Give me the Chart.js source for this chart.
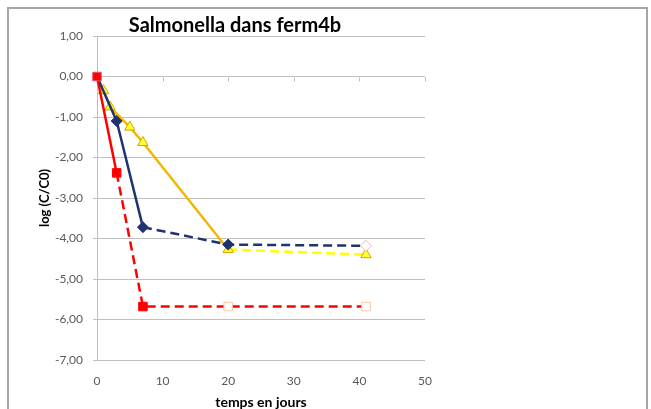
<!DOCTYPE html>
<html>
<head>
<meta charset="utf-8">
<script src="https://cdn.jsdelivr.net/npm/chart.js@4/dist/chart.umd.min.js"></script>
<style>
  html, body { margin: 0; padding: 0; background: #fff; }
  #wrap { width: 651px; height: 409px; position: relative; overflow: hidden; }
</style>
</head>
<body>
<div id="wrap"><canvas id="c" width="651" height="409"></canvas></div>
<script>
// Salmonella dans ferm4b – log(C/C0) en fonction du temps

const daysRed = [0, 3, 7, 20, 41];
const logRed = [0, -2.38, -5.68, -5.68, -5.68];

const daysBlue = [0, 3, 7, 20, 41];
const logBlue = [0, -1.1, -3.72, -4.15, -4.18];

const daysYellow = [0, 1, 2, 5, 7, 20, 41];
const logYellow = [0, -0.35, -0.75, -1.25, -1.63, -4.27, -4.4];

const xTicks = [0, 10, 20, 30, 40, 50];
const yTicks = [1, 0, -1, -2, -3, -4, -5, -6, -7];

const pts = (xs, ys) => xs.map((x, i) => ({ x, y: ys[i] }));
const DASH = [9, 5];
const FONT = "Lato, 'Open Sans', sans-serif";

// cadre gris + titre + petites graduations sur l'axe y=0
const deco = {
  id: "deco",
  beforeDraw(chart) {
    const ctx = chart.ctx;
    ctx.save();
    ctx.fillStyle = "#fff";
    ctx.fillRect(0, 0, chart.width, chart.height);
    ctx.restore();
  },
  afterDraw(chart) {
    const ctx = chart.ctx;
    const xs = chart.scales.x, ys = chart.scales.y;
    ctx.save();
    ctx.strokeStyle = "#a6a6a6";
    ctx.lineWidth = 2;
    ctx.strokeRect(8, 8, 639, 430);
    ctx.strokeStyle = "#bfbfbf";
    ctx.lineWidth = 1;
    const y0 = Math.round(ys.getPixelForValue(0)) + 0.5;
    xTicks.forEach((v) => {
      if (v === 0) return;
      const px = Math.round(xs.getPixelForValue(v)) + 0.5;
      ctx.beginPath(); ctx.moveTo(px, y0); ctx.lineTo(px, y0 + 4); ctx.stroke();
    });
    ctx.fillStyle = "#000";
    ctx.font = "bold 20px " + FONT;
    ctx.textAlign = "center";
    ctx.textBaseline = "middle";
    ctx.fillText("Salmonella dans ferm4b", 235, 26);
    ctx.restore();
  },
};

new Chart(document.getElementById("c"), {
  type: "scatter",
  data: {
    datasets: [
      {
        label: "rouge",
        data: pts(daysRed, logRed),
        showLine: true,
        clip: false,
        borderColor: "#ff0000",
        borderWidth: 2.5,
        segment: { borderDash: (c) => (c.p0DataIndex >= 1 ? DASH : undefined) },
        pointStyle: "rect",
        pointRadius: 6,
        pointBorderWidth: 1,
        pointBackgroundColor: logRed.map((v, i) => (i >= 3 ? "#ffffff" : "#ff0000")),
        pointBorderColor: logRed.map((v, i) => (i >= 3 ? "#f4c7a4" : (i === 0 ? "#e0506a" : "#ff0000"))),
      },
      {
        label: "bleu",
        data: pts(daysBlue, logBlue),
        showLine: true,
        clip: false,
        borderColor: "#1f3370",
        borderWidth: 2.5,
        segment: { borderDash: (c) => (c.p0DataIndex >= 2 ? DASH : undefined) },
        pointStyle: "rectRot",
        pointRadius: logBlue.map((v, i) => (i === 0 ? 0 : 5.5)),
        pointBorderWidth: 1,
        pointBackgroundColor: logBlue.map((v, i) => (i === 4 ? "#ffffff" : "#1f3370")),
        pointBorderColor: logBlue.map((v, i) => (i === 4 ? "#e6b9b8" : "#1f3370")),
      },
      {
        label: "jaune",
        data: pts(daysYellow, logYellow),
        showLine: true,
        clip: false,
        borderColor: "#f2b705",
        borderWidth: 2.5,
        segment: {
          borderDash: (c) => (c.p0DataIndex >= 5 ? DASH : undefined),
          borderColor: (c) => (c.p0DataIndex >= 5 ? "#ffff00" : "#f2b705"),
        },
        pointStyle: "triangle",
        pointRadius: logYellow.map((v, i) => (i === 0 ? 0 : 6)),
        pointBorderWidth: 1,
        pointBackgroundColor: "#ffff33",
        pointBorderColor: "#d9a400",
      },
    ],
  },
  options: {
    responsive: false,
    animation: false,
    layout: { padding: { left: 0, top: 36, right: 226, bottom: 0 } },
    plugins: { legend: { display: false }, tooltip: { enabled: false }, title: { display: false } },
    scales: {
      x: {
        type: "linear",
        min: 0, max: 50,
        afterBuildTicks: (s) => { s.ticks = xTicks.map((v) => ({ value: v })); },
        afterFit: (s) => { s.height = 49; },
        grid: { display: false, drawTicks: false },
        border: { display: false },
        ticks: { color: "#595959", font: { family: FONT, size: 12 }, padding: 14 },
        title: { display: true, text: "temps en jours", color: "#000", font: { family: FONT, size: 14, weight: "bold" }, padding: { top: 0, bottom: -2 } },
      },
      y: {
        min: -7, max: 1,
        afterBuildTicks: (s) => { s.ticks = yTicks.map((v) => ({ value: v })); },
        afterFit: (s) => { s.width = 97; },
        grid: { color: "#bfbfbf", lineWidth: 1, tickLength: 4 },
        border: { display: true, color: "#bfbfbf", width: 1 },
        ticks: {
          color: "#595959", font: { family: FONT, size: 12 }, padding: 10,
          callback: (v) => v.toFixed(2).replace(".", ","),
        },
        title: { display: true, text: "log (C/C0)", color: "#000", font: { family: FONT, size: 13, weight: "bold" }, padding: { top: 37, bottom: 0 } },
      },
    },
  },
  plugins: [deco],
});
</script>
</body>
</html>
